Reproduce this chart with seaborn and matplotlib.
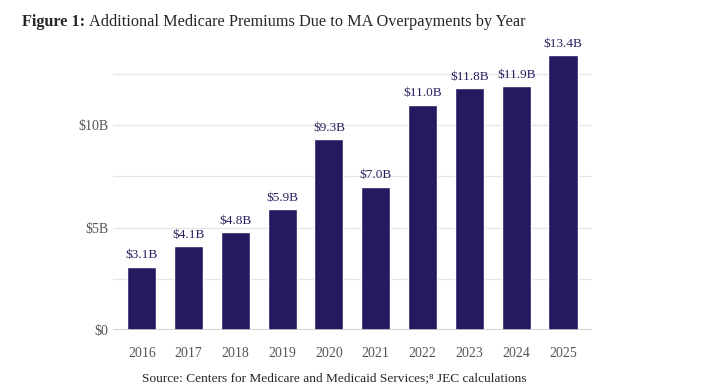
import matplotlib
matplotlib.use("Agg")
import matplotlib.pyplot as plt
import seaborn as sns
import pandas as pd

# data
years = ["2016", "2017", "2018", "2019", "2020", "2021", "2022", "2023", "2024", "2025"]
premiums = [3.1, 4.1, 4.8, 5.9, 9.3, 7.0, 11.0, 11.8, 11.9, 13.4]
ytick_vals = [0, 5, 10]
ytick_labels = ["$0", "$5B", "$10B"]

df = pd.DataFrame({"year": years, "premium": premiums})

sns.set_theme(style="white")
plt.rcParams["font.family"] = ["Liberation Serif", "DejaVu Serif"]

fig = plt.figure(figsize=(7.09, 3.92), dpi=100)
ax = fig.add_axes([0.159, 0.158, 0.676, 0.732])

sns.barplot(data=df, x="year", y="premium", color="#231a5f", saturation=1,
            width=0.62, ax=ax, zorder=3)

# grid
for g in [2.5, 5, 7.5, 10, 12.5]:
    ax.axhline(g, color="#e6e6e6", lw=0.9, zorder=1)
ax.axhline(0, color="#c8c8c8", lw=1.2, zorder=4)

for i, v in enumerate(premiums):
    ax.text(i, v + 0.25, f"${v:.1f}B", ha="center", va="bottom",
            fontsize=9.5, color="#2a2060")

ax.set_xlim(-0.62, 9.62)
ax.set_ylim(0, 14)
ax.set_yticks(ytick_vals)
ax.set_yticklabels(ytick_labels)
ax.set_xlabel("")
ax.set_ylabel("")
ax.tick_params(axis="both", length=0, labelsize=10, labelcolor="#555555")
ax.tick_params(axis="x", pad=12)
ax.tick_params(axis="y", pad=3)
sns.despine(ax=ax, left=True, bottom=True)

fig.text(0.031, 0.945, "Figure 1:", fontsize=11.7, fontweight="bold", va="center", ha="left")
fig.text(0.126, 0.945, "Additional Medicare Premiums Due to MA Overpayments by Year",
         fontsize=11.7, va="center", ha="left")
fig.text(0.472, 0.035, "Source: Centers for Medicare and Medicaid Services;\u2078 JEC calculations",
         fontsize=9.6, ha="center", va="center")

fig.savefig("out.png", dpi=100)
